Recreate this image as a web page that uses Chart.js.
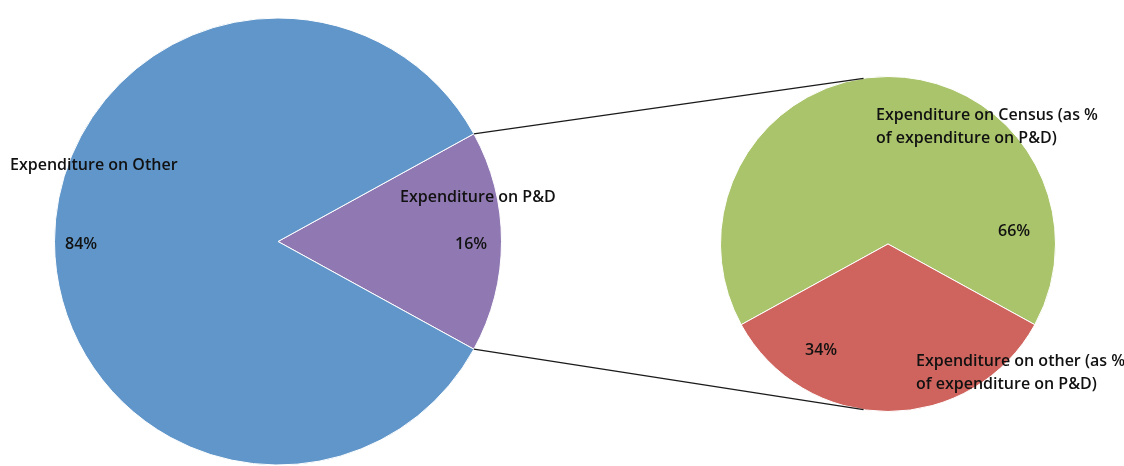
<!DOCTYPE html>
<html>
<head>
<meta charset="utf-8">
<script src="https://cdn.jsdelivr.net/npm/chart.js@4.4.1/dist/chart.umd.min.js"></script>
<style>
  html, body { margin: 0; padding: 0; background: #ffffff; width: 1124px; height: 466px; overflow: hidden; }
  .box { position: absolute; top: 0; height: 466px; }
  #leftBox { left: 0; width: 560px; }
  #rightBox { left: 560px; width: 564px; }
  #lines { position: absolute; left: 0; top: 0; width: 1124px; height: 466px; pointer-events: none; }
</style>
</head>
<body>
<div class="box" id="leftBox"><canvas id="leftChart"></canvas></div>
<div class="box" id="rightBox"><canvas id="rightChart"></canvas></div>
<canvas id="lines" width="1124" height="466"></canvas>
<script>
// ---- data ----
const mainCategories = ['Expenditure on P&D', 'Expenditure on Other'];
const mainValues = [16, 84];
const mainPercentLabels = ['16%', '84%'];
const mainColors = ['#9079B3', '#6096C9'];

const subCategories = [
  ['Expenditure on Census (as %', 'of expenditure on P&D)'],
  ['Expenditure on other (as %', 'of expenditure on P&D)']
];
const subValues = [66, 34];
const subPercentLabels = ['66%', '34%'];
const subColors = ['#AAC46B', '#CE645D'];

// ---- label placement (offsets from pie centre, px) ----
const mainNamePos = [[122, -44], [-268, -76]];
const mainPctPos  = [[177, 3], [-213, 3]];
const subNamePos  = [[-12, -129], [28, 117]];
const subPctPos   = [[110, -13], [-83, 106]];

const FONT = '600 16px "Open Sans", "Noto Sans", sans-serif';

function labelPlugin(names, pcts, namePos, pctPos) {
  return {
    id: 'sliceLabels',
    afterDatasetsDraw(chart) {
      const ctx = chart.ctx;
      const arcs = chart.getDatasetMeta(0).data;
      const cx = arcs[0].x, cy = arcs[0].y;
      ctx.save();
      ctx.font = FONT;
      ctx.fillStyle = '#111111';
      ctx.textAlign = 'left';
      ctx.textBaseline = 'middle';
      names.forEach((nm, i) => {
        const lines = Array.isArray(nm) ? nm : [nm];
        lines.forEach((ln, k) => {
          ctx.fillText(ln, cx + namePos[i][0], cy + namePos[i][1] + k * 23);
        });
        ctx.fillText(pcts[i], cx + pctPos[i][0], cy + pctPos[i][1]);
      });
      ctx.restore();
    }
  };
}

Chart.defaults.animation = false;
Chart.defaults.responsive = true;
Chart.defaults.maintainAspectRatio = false;

const leftChart = new Chart(document.getElementById('leftChart'), {
  type: 'pie',
  data: {
    labels: mainCategories,
    datasets: [{ data: mainValues, backgroundColor: mainColors, borderColor: '#ffffff', borderWidth: 1 }]
  },
  options: {
    rotation: 61.2,
    layout: { padding: { left: 54, right: 58, top: 17, bottom: 0 } },
    plugins: { legend: { display: false }, tooltip: { enabled: false } }
  },
  plugins: [labelPlugin(mainCategories, mainPercentLabels, mainNamePos, mainPctPos)]
});

const rightChart = new Chart(document.getElementById('rightChart'), {
  type: 'pie',
  data: {
    labels: subCategories.map(s => s.join(' ')),
    datasets: [{ data: subValues, backgroundColor: subColors, borderColor: '#ffffff', borderWidth: 1 }]
  },
  options: {
    rotation: 241.2,
    layout: { padding: { left: 160, right: 68, top: 75, bottom: 53 } },
    plugins: { legend: { display: false }, tooltip: { enabled: false } }
  },
  plugins: [labelPlugin(subCategories, subPercentLabels, subNamePos, subPctPos)]
});

// ---- connector lines between P&D slice and the secondary pie ----
function drawConnectors() {
  const lb = document.getElementById('leftBox').getBoundingClientRect();
  const rb = document.getElementById('rightBox').getBoundingClientRect();
  const pd = leftChart.getDatasetMeta(0).data[0];
  const sub = rightChart.getDatasetMeta(0).data[0];
  const c = document.getElementById('lines').getContext('2d');
  c.clearRect(0, 0, 1124, 466);
  const a1 = pd.startAngle, a2 = pd.endAngle;
  const p1 = [lb.left + pd.x + pd.outerRadius * Math.cos(a1), lb.top + pd.y + pd.outerRadius * Math.sin(a1)];
  const p2 = [lb.left + pd.x + pd.outerRadius * Math.cos(a2), lb.top + pd.y + pd.outerRadius * Math.sin(a2)];
  const tAng = -98.4 * Math.PI / 180, bAng = 98.4 * Math.PI / 180;
  const q1 = [rb.left + sub.x + sub.outerRadius * Math.cos(tAng), rb.top + sub.y + sub.outerRadius * Math.sin(tAng)];
  const q2 = [rb.left + sub.x + sub.outerRadius * Math.cos(bAng), rb.top + sub.y + sub.outerRadius * Math.sin(bAng)];
  c.strokeStyle = '#1a1a1a';
  c.lineWidth = 1.3;
  c.beginPath();
  c.moveTo(p1[0], p1[1]); c.lineTo(q1[0], q1[1]);
  c.moveTo(p2[0], p2[1]); c.lineTo(q2[0], q2[1]);
  c.stroke();
}
drawConnectors();
</script>
</body>
</html>
